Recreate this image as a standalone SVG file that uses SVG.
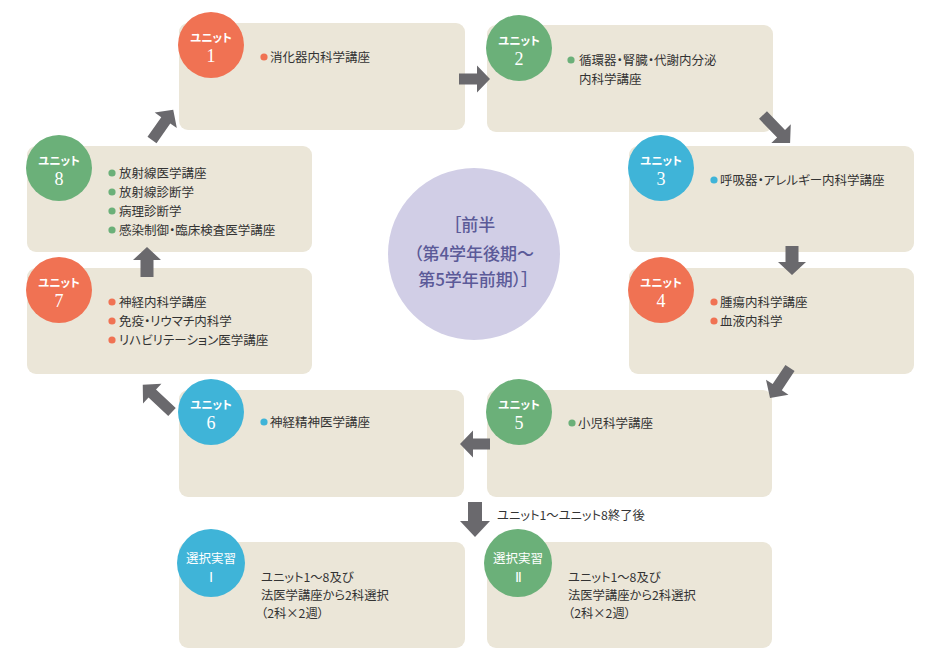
<svg xmlns="http://www.w3.org/2000/svg" width="945" height="668" viewBox="0 0 945 668">
<style>
text{font-feature-settings:"palt"}
.box{fill:#ebe6d8}
.o{fill:#f07253}
.g{fill:#6bb079}
.b{fill:#3fb4d8}
.arr{fill:#6a696d}
.lbl{font-family:"Noto Sans CJK JP","Noto Sans",sans-serif;font-size:11.5px;font-weight:bold;fill:#fff;text-anchor:middle}
.lbl2{font-family:"Noto Sans CJK JP","Noto Sans",sans-serif;font-size:12.5px;fill:#fff;text-anchor:middle}
.num{font-family:"Liberation Serif",serif;font-size:18px;fill:#fff;text-anchor:middle}
.rom{font-family:"Liberation Serif",serif;font-size:14px;fill:#fff;text-anchor:middle}
.t{font-family:"Noto Sans CJK JP","Noto Sans",sans-serif;font-size:12.5px;fill:#333}
.s{font-family:"Noto Sans CJK JP","Noto Sans",sans-serif;font-size:12.3px;fill:#333}
.c{font-family:"Noto Sans CJK JP","Noto Sans",sans-serif;font-size:17px;font-weight:500;fill:#5b5a98;text-anchor:middle}
</style>
<rect width="945" height="668" fill="#fff"/>

<g id="center">
<circle cx="474" cy="254" r="86" fill="#d1cee6"/>
<text class="c" x="474" y="231">［前半</text>
<text class="c" x="474" y="259.5">（第4学年後期～</text>
<text class="c" x="474" y="285.5">第5学年前期）］</text>
</g>

<g id="unit1">
<rect class="box" x="179" y="23" width="286" height="107" rx="9"/>
<circle class="o" cx="211" cy="45" r="33"/>
<text class="lbl" x="211" y="42">ユニット</text>
<text class="num" x="211" y="62">1</text>
<circle class="o" cx="264" cy="57" r="3.6"/>
<text class="t" x="270" y="61.5">消化器内科学講座</text>
</g>

<g id="unit2">
<rect class="box" x="487" y="25" width="286" height="107" rx="9"/>
<circle class="g" cx="519" cy="48" r="33"/>
<text class="lbl" x="519" y="45">ユニット</text>
<text class="num" x="519" y="65">2</text>
<circle class="g" cx="571" cy="60" r="3.6"/>
<text class="t" x="579" y="64.5">循環器・腎臓・代謝内分泌</text>
<text class="t" x="579" y="83.5">内科学講座</text>
</g>

<g id="unit3">
<rect class="box" x="629" y="146" width="285" height="106" rx="9"/>
<circle class="b" cx="661" cy="168" r="33"/>
<text class="lbl" x="661" y="165">ユニット</text>
<text class="num" x="661" y="185">3</text>
<circle class="b" cx="714" cy="180" r="3.6"/>
<text class="t" x="720" y="184.5">呼吸器・アレルギー内科学講座</text>
</g>

<g id="unit4">
<rect class="box" x="629" y="268" width="285" height="106" rx="9"/>
<circle class="o" cx="661" cy="290" r="33"/>
<text class="lbl" x="661" y="287">ユニット</text>
<text class="num" x="661" y="307">4</text>
<circle class="o" cx="714" cy="302" r="3.6"/>
<text class="t" x="720" y="306.5">腫瘍内科学講座</text>
<circle class="o" cx="714" cy="321" r="3.6"/>
<text class="t" x="720" y="325.5">血液内科学</text>
</g>

<g id="unit5">
<rect class="box" x="487" y="390" width="285" height="107" rx="9"/>
<circle class="g" cx="519" cy="412" r="33"/>
<text class="lbl" x="519" y="409">ユニット</text>
<text class="num" x="519" y="429">5</text>
<circle class="g" cx="572" cy="423" r="3.6"/>
<text class="t" x="578" y="427.5">小児科学講座</text>
</g>

<g id="unit6">
<rect class="box" x="179" y="390" width="285" height="107" rx="9"/>
<circle class="b" cx="211" cy="412" r="33"/>
<text class="lbl" x="211" y="409">ユニット</text>
<text class="num" x="211" y="429">6</text>
<circle class="b" cx="264" cy="422" r="3.6"/>
<text class="t" x="270" y="426.5">神経精神医学講座</text>
</g>

<g id="unit7">
<rect class="box" x="27" y="268" width="285" height="106" rx="9"/>
<circle class="o" cx="59" cy="290" r="33"/>
<text class="lbl" x="59" y="287">ユニット</text>
<text class="num" x="59" y="307">7</text>
<circle class="o" cx="112" cy="302" r="3.6"/>
<text class="t" x="119" y="306.5">神経内科学講座</text>
<circle class="o" cx="112" cy="321" r="3.6"/>
<text class="t" x="119" y="325.5">免疫・リウマチ内科学</text>
<circle class="o" cx="112" cy="340" r="3.6"/>
<text class="t" x="119" y="344.5">リハビリテーション医学講座</text>
</g>

<g id="unit8">
<rect class="box" x="27" y="146" width="285" height="106" rx="9"/>
<circle class="g" cx="59" cy="168" r="33"/>
<text class="lbl" x="59" y="165">ユニット</text>
<text class="num" x="59" y="185">8</text>
<circle class="g" cx="112" cy="173" r="3.6"/>
<text class="t" x="119" y="177.5">放射線医学講座</text>
<circle class="g" cx="112" cy="192" r="3.6"/>
<text class="t" x="119" y="196.5">放射線診断学</text>
<circle class="g" cx="112" cy="211" r="3.6"/>
<text class="t" x="119" y="215.5">病理診断学</text>
<circle class="g" cx="112" cy="230" r="3.6"/>
<text class="t" x="119" y="234.5">感染制御・臨床検査医学講座</text>
</g>

<g id="elective1">
<rect class="box" x="179" y="542" width="286" height="106" rx="9"/>
<circle class="b" cx="211" cy="563" r="34"/>
<text class="lbl2" x="211" y="562.5">選択実習</text>
<text class="rom" x="211" y="582">Ⅰ</text>
<text class="s" x="261" y="581.5">ユニット1～8及び</text>
<text class="s" x="261" y="599.5">法医学講座から2科選択</text>
<text class="s" x="261" y="617.5">（2科×2週）</text>
</g>

<g id="elective2">
<rect class="box" x="487" y="542" width="285" height="106" rx="9"/>
<circle class="g" cx="518" cy="563" r="34"/>
<text class="lbl2" x="518" y="562.5">選択実習</text>
<text class="rom" x="518" y="582">Ⅱ</text>
<text class="s" x="568" y="581.5">ユニット1～8及び</text>
<text class="s" x="568" y="599.5">法医学講座から2科選択</text>
<text class="s" x="568" y="617.5">（2科×2週）</text>
</g>

<g id="connectors">
<path class="arr" transform="translate(459,79)" d="M0,-5.5 H18 V-13.5 L31,0 L18,13.5 V5.5 H0 Z"/>
<path class="arr" transform="translate(763,115) rotate(46)" d="M0,-5.5 H26 V-13.5 L39,0 L26,13.5 V5.5 H0 Z"/>
<path class="arr" transform="translate(792,246) rotate(90)" d="M0,-6.5 H16 V-14 L29,0 L16,14 V6.5 H0 Z"/>
<path class="arr" transform="translate(790,368) rotate(123.7)" d="M0,-5.5 H23 V-13.5 L36,0 L23,13.5 V5.5 H0 Z"/>
<path class="arr" transform="translate(490,444) rotate(180)" d="M0,-5.5 H17 V-13.5 L30,0 L17,13.5 V5.5 H0 Z"/>
<path class="arr" transform="translate(172,412) rotate(-137)" d="M0,-5.5 H27 V-13.5 L40,0 L27,13.5 V5.5 H0 Z"/>
<path class="arr" transform="translate(147,277) rotate(-90)" d="M0,-6.5 H17 V-14 L30,0 L17,14 V6.5 H0 Z"/>
<path class="arr" transform="translate(152,140) rotate(-55)" d="M0,-5.5 H24 V-13.5 L37,0 L24,13.5 V5.5 H0 Z"/>
<path class="arr" transform="translate(475,502) rotate(90)" d="M0,-7 H19 V-15 L35,0 L19,15 V7 H0 Z"/>
<text class="s" x="497" y="519.5">ユニット1～ユニット8終了後</text>
</g>
</svg>
